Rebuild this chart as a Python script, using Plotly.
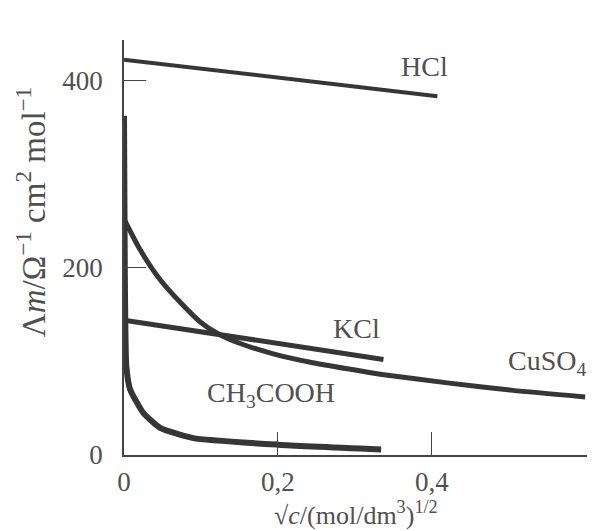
import plotly.graph_objects as go

# Data
hcl_x = [0.0, 0.407]
hcl_y = [422, 383]

kcl_x = [0.0, 0.337]
kcl_y = [144, 102]

cuso4_x = [0.0, 0.021, 0.047, 0.073, 0.099, 0.121, 0.151, 0.194, 0.242, 0.29, 0.335, 0.42, 0.505, 0.599]
cuso4_y = [252, 219, 187, 163, 142, 130, 119, 108, 99, 92, 86, 77, 69, 62]

ch3cooh_x = [0.0, 0.001, 0.003, 0.008, 0.025, 0.047, 0.09, 0.2, 0.334]
ch3cooh_y = [362, 200, 95, 70, 45, 29, 18, 11, 6]

x_tickvals = [0, 0.2, 0.4]
x_ticktext = ["0", "0,2", "0,4"]
y_tickvals = [0, 200, 400]
y_ticktext = ["0", "200", "400"]

# label text, paper x, paper y, x anchor
labels = [
    ("HCl", 0.647, 0.935, "center"),
    ("KCl", 0.501, 0.306, "center"),
    ("CuSO<sub>4</sub>", 0.997, 0.224, "right"),
    ("CH<sub>3</sub>COOH", 0.316, 0.145, "center"),
]

LINE = "#363636"
TXT = "#505050"
FONT = "Liberation Serif"

fig = go.Figure()
fig.add_trace(go.Scatter(x=hcl_x, y=hcl_y, mode="lines",
                         line=dict(color=LINE, width=4), hoverinfo="skip"))
fig.add_trace(go.Scatter(x=kcl_x, y=kcl_y, mode="lines",
                         line=dict(color=LINE, width=5), hoverinfo="skip"))
fig.add_trace(go.Scatter(x=cuso4_x, y=cuso4_y, mode="lines",
                         line=dict(color=LINE, width=5, shape="spline", smoothing=0.6),
                         hoverinfo="skip"))
fig.add_trace(go.Scatter(x=ch3cooh_x, y=ch3cooh_y, mode="lines",
                         line=dict(color=LINE, width=6, shape="spline", smoothing=0.5),
                         hoverinfo="skip"))

for text, x, y, anchor in labels:
    fig.add_annotation(x=x, y=y, xref="paper", yref="paper", text=text,
                       showarrow=False, xanchor=anchor, yanchor="middle",
                       font=dict(family=FONT, size=28, color=TXT))

fig.add_annotation(x=0.499, y=-0.142, xref="paper", yref="paper",
                   xanchor="center", yanchor="middle",
                   text="√<i>c</i>/(mol/dm<sup>3</sup>)<sup>1/2</sup>",
                   showarrow=False, font=dict(family=FONT, size=26, color=TXT))
fig.add_annotation(x=-0.200, y=0.585, xref="paper", yref="paper", textangle=-90,
                   xanchor="center", yanchor="middle",
                   text="Λ<i>m</i>/Ω<sup>−1</sup> cm<sup>2</sup> mol<sup>−1</sup>",
                   showarrow=False, font=dict(family=FONT, size=33, color=TXT))

# page body adds an 8px offset, so the figure is sized/margined to compensate
fig.update_layout(
    width=587, height=523,
    margin=dict(l=116, r=6, t=32, b=76),
    paper_bgcolor="white", plot_bgcolor="white",
    showlegend=False,
    font=dict(family=FONT, color=TXT),
    xaxis=dict(range=[0, 0.604], tickvals=x_tickvals, ticktext=x_ticktext,
               ticks="inside", ticklen=23, tickwidth=1.2, tickcolor="#444",
               showline=True, linecolor="#444", linewidth=1.5, automargin=False,
               showgrid=False, zeroline=False, ticklabelstandoff=2,
               tickfont=dict(family=FONT, size=27, color=TXT)),
    yaxis=dict(range=[0, 443], tickvals=y_tickvals, ticktext=y_ticktext,
               ticks="inside", ticklen=22, tickwidth=1.2, tickcolor="#444",
               showline=True, linecolor="#444", linewidth=1.5, automargin=False,
               showgrid=False, zeroline=False, ticklabelstandoff=14,
               tickfont=dict(family=FONT, size=27, color=TXT)),
)

fig.write_html("out.html")
